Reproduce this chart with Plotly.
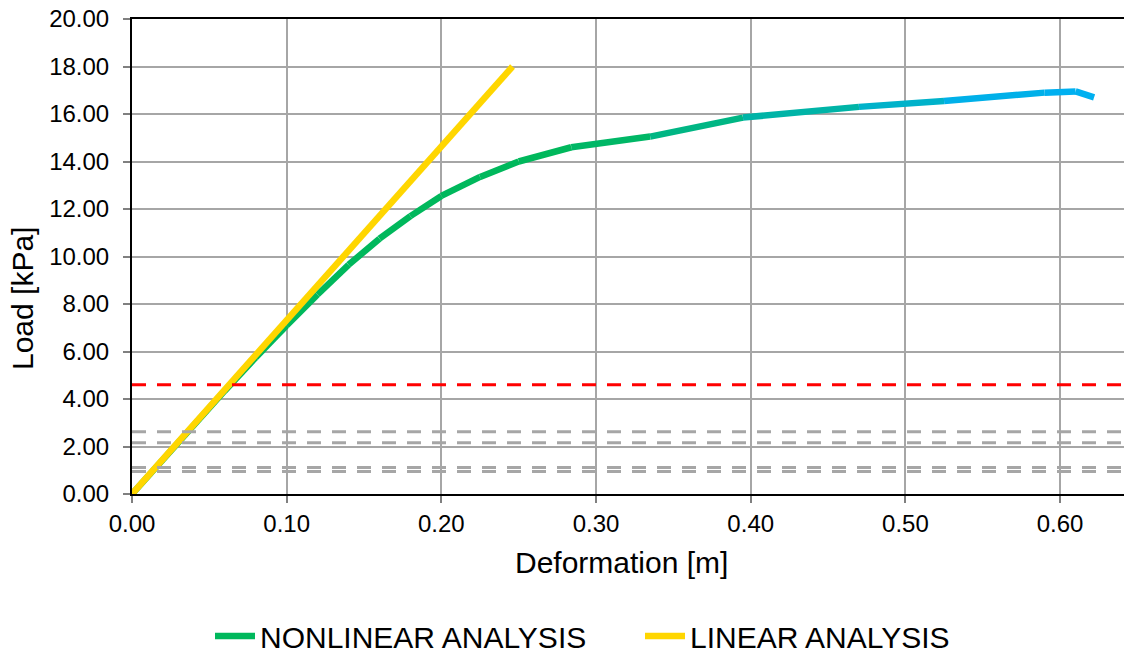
import plotly.graph_objects as go

# ---- data ----
nonlinear_x = [0, 0.02, 0.04, 0.06, 0.08, 0.10, 0.12, 0.14, 0.16, 0.18, 0.20,
               0.225, 0.25, 0.284, 0.335, 0.395, 0.47, 0.525, 0.59, 0.61, 0.622]
nonlinear_y = [0, 1.45, 2.9, 4.35, 5.75, 7.1, 8.4, 9.65, 10.75, 11.7, 12.55,
               13.35, 14.0, 14.6, 15.05, 15.85, 16.3, 16.55, 16.9, 16.95, 16.7]
linear_x = [0, 0.246]
linear_y = [0, 18.0]
red_level = [4.6]
gray_levels = [2.62, 2.16, 1.12, 0.95]
x_range = [0, 0.6465]
y_range = [0, 20]
x_ticks = [0, 0.1, 0.2, 0.3, 0.4, 0.5, 0.6]
y_ticks = [0, 2, 4, 6, 8, 10, 12, 14, 16, 18, 20]

FONT = "Liberation Sans, Arial, sans-serif"
green = (0, 184, 92)
blue = (0, 176, 240)


def mix(t):
    c = [round(green[i] + (blue[i] - green[i]) * t) for i in range(3)]
    return "rgb(%d,%d,%d)" % tuple(c)


fig = go.Figure()

# nonlinear (gradient by segment)
for i in range(len(nonlinear_x) - 1):
    xm = (nonlinear_x[i] + nonlinear_x[i + 1]) / 2
    t = min(max((xm - 0.29) / (0.57 - 0.29), 0), 1)
    fig.add_trace(go.Scatter(
        x=nonlinear_x[i:i + 2], y=nonlinear_y[i:i + 2], mode="lines",
        line=dict(color=mix(t), width=6.5), name="NONLINEAR ANALYSIS",
        legendgroup="nl", showlegend=(i == 0), hoverinfo="skip"))

fig.add_trace(go.Scatter(x=linear_x, y=linear_y, mode="lines",
                         line=dict(color="#FFD600", width=6.5),
                         name="LINEAR ANALYSIS"))

for lv in red_level:
    fig.add_trace(go.Scatter(x=x_range, y=[lv, lv], mode="lines",
                             line=dict(color="#FF0000", width=3, dash="14px,11px"),
                             showlegend=False, hoverinfo="skip"))
for lv in gray_levels:
    fig.add_trace(go.Scatter(x=x_range, y=[lv, lv], mode="lines",
                             line=dict(color="#A6A6A6", width=3, dash="14px,11px"),
                             showlegend=False, hoverinfo="skip"))

W, H = 1124, 651
fig.update_layout(
    width=W, height=H,
    margin=dict(l=124, r=0, t=11, b=165, autoexpand=False),
    paper_bgcolor="white", plot_bgcolor="white",
    font=dict(family=FONT, size=24, color="#000000"),
    showlegend=True,
    legend=dict(orientation="h", xref="container", yref="container",
                x=202 / W, y=(H - 602) / H, xanchor="left", yanchor="top",
                font=dict(size=30, family=FONT), entrywidth=375,
                itemwidth=40, bgcolor="rgba(0,0,0,0)"),
    annotations=[
        dict(text="Deformation [m]", xref="paper", yref="paper",
             x=0.489, y=-68 / 475, xanchor="center", yanchor="middle",
             showarrow=False, font=dict(size=30, family=FONT)),
        dict(text="Load [kPa]", xref="paper", yref="paper", textangle=-90,
             x=-0.11, y=1 - (291 - 11) / 475, xanchor="center", yanchor="middle",
             showarrow=False, font=dict(size=30, family=FONT)),
    ],
)
fig.update_xaxes(range=x_range, tickvals=x_ticks, tickformat=".2f",
                 automargin=False, ticklabeloverflow="allow",
                 showgrid=True, gridcolor="#A6A6A6", gridwidth=1.5,
                 showline=True, linecolor="#000000", linewidth=2, mirror=True,
                 ticks="outside", ticklen=7, tickcolor="#808080", tickwidth=1.5,
                 zeroline=False)
fig.update_yaxes(range=y_range, tickvals=y_ticks, tickformat=".2f",
                 automargin=False, ticklabelstandoff=9, ticklabeloverflow="allow",
                 showgrid=True, gridcolor="#A6A6A6", gridwidth=1.5,
                 showline=True, linecolor="#000000", linewidth=2,
                 ticks="outside", ticklen=7, tickcolor="#808080", tickwidth=1.5,
                 zeroline=False)

fig.write_html("out.html")
